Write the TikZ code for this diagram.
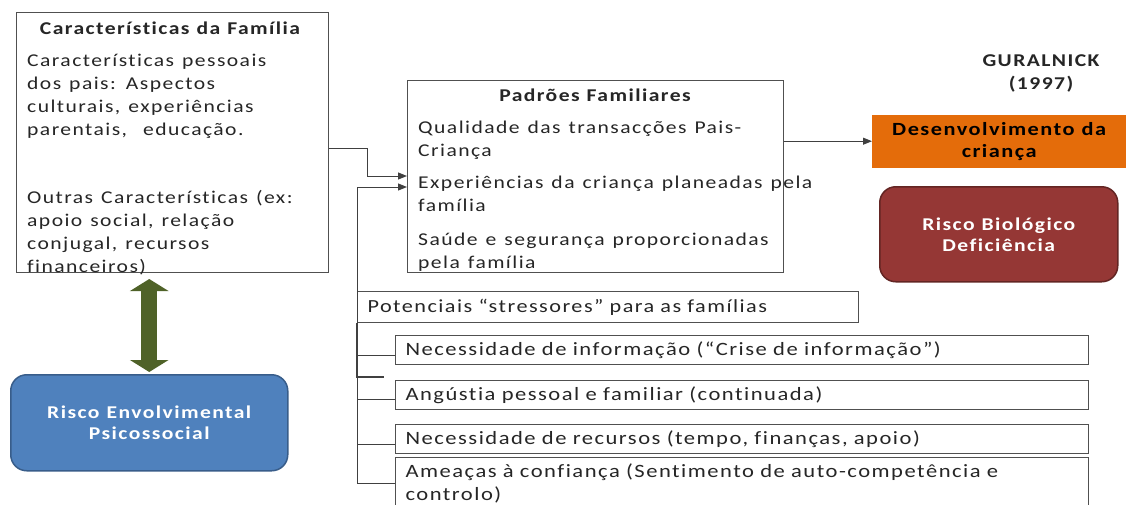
\documentclass[tikz,border=0pt]{standalone}
\usepackage{fontspec}
\setmainfont{Carlito}[FakeStretch=1.2, LetterSpace=8, Ligatures=NoCommon]
\usetikzlibrary{arrows.meta}
\newcommand\mysp[1]{\spaceskip=#1\relax}
\definecolor{lineg}{HTML}{404040}
\definecolor{boxg}{HTML}{505050}
\definecolor{olivearrow}{HTML}{4F6228}
\definecolor{bluefill}{HTML}{4F81BD}
\definecolor{blueedge}{HTML}{385D8A}
\definecolor{redfill}{HTML}{953735}
\definecolor{rededge}{HTML}{632523}
\definecolor{orangefill}{HTML}{E46C0A}
\begin{document}
\begin{tikzpicture}[x=1pt,y=-1pt,
  every node/.style={font=\fontsize{18}{23}\selectfont\mysp{8pt}, text=black!85},
  frame/.style={draw=boxg, line width=1pt, anchor=north west, inner sep=0pt},
  para/.style={anchor=north west, align=left, inner sep=0pt},
  title/.style={font=\bfseries\fontsize{18}{23}\selectfont\mysp{7pt}, inner sep=0pt},
  strbox/.style={draw=boxg, line width=1pt, anchor=north west, align=left, inner xsep=10pt, inner ysep=0pt, font=\fontsize{18.8}{23}\selectfont\mysp{8pt}},
  conn/.style={draw=lineg, line width=1pt},
  tip/.style={-{Triangle[length=9pt,width=7pt]}},
  rbox/.style={rounded corners=16pt, line width=1.5pt, font=\bfseries\fontsize{18}{21}\selectfont\mysp{7pt}, text=white, align=center, anchor=north west, inner sep=0pt}
]
\useasboundingbox (0,0) rectangle (1126,504);
\fill[white] (0,0) rectangle (1126,504);

% Caracteristicas da Familia
\node[frame, minimum width=312pt, minimum height=260pt] (fam) at (16,12) {};
\node[title] (famt) at (170,28) {Características da Família};
\node[para] (famp1) at (27,54) {Características pessoais\\dos pais: Aspectos\\culturais, experiências\\parentais,\ \ educação.};
\node[para] (famp2) at (27,190) {Outras Características (ex:\\apoio social, relação\\conjugal, recursos\\financeiros)};

% Padroes Familiares
\node[frame, minimum width=376pt, minimum height=192pt] (pad) at (407,80) {};
\node[title] (padt) at (595,95) {Padrões Familiares};
\node[para] (padp1) at (418,121) {Qualidade das transacções Pais-\\Criança};
\node[para] (padp2) at (418,176) {Experiências da criança planeadas pela\\família};
\node[para] (padp3) at (418,233) {Saúde e segurança proporcionadas\\pela família};

% right side
\node[font=\bfseries\fontsize{18}{23}\selectfont, align=center, inner sep=0pt] (gur) at (1041,73) {GURALNICK\\(1997)};
\node[fill=orangefill, draw=orangefill, anchor=north west, minimum width=254pt, minimum height=52pt, inner sep=0pt,
      font=\bfseries\fontsize{18.6}{22}\selectfont\mysp{7pt}, text=black, align=center] (des) at (872,115) {Desenvolvimento da\\criança};
\node[rbox, fill=redfill, draw=rededge, minimum width=238pt, minimum height=95pt] (bio) at (879,186) {Risco Biológico\\Deficiência};
\node[rbox, fill=bluefill, draw=blueedge, minimum width=277pt, minimum height=96pt] (env) at (10,374) {Risco Envolvimental\\Psicossocial};

% stressors
\node[strbox, minimum width=501pt, minimum height=31pt, text width=481pt, font=\fontsize{18.5}{23}\selectfont] (pot) at (357,291) {Potenciais “stressores” para as famílias};
\node[strbox, minimum width=693pt, minimum height=29pt, text width=673pt] (s1) at (395,335) {Necessidade de informação (“Crise de informação”)};
\node[strbox, minimum width=693pt, minimum height=29pt, text width=673pt] (s2) at (395,380) {Angústia pessoal e familiar (continuada)};
\node[strbox, minimum width=693pt, minimum height=29pt, text width=673pt] (s3) at (395,424) {Necessidade de recursos (tempo, finanças, apoio)};
\node[strbox, minimum width=693pt, minimum height=52pt, text width=673pt, anchor=north west] (s4) at (395,457) {Ameaças à confiança (Sentimento de auto-competência e\\controlo)};

% connectors
\coordinate (j1) at (367,148);
\coordinate (j2) at (367,176);
\coordinate (trunk) at (357,187);
\coordinate (stub) at (384,377);
\draw[conn, tip] (fam.east |- j1) -- (j1) -- (j2) -- (pad.west |- j2);
\draw[conn, tip] (s4.west -| trunk) -- (trunk) -- (pad.west |- trunk);
\draw[conn] ([yshift=-5pt]s1.west) -- ([yshift=-5pt]s1.west -| trunk);
\draw[conn] ([yshift=-4pt]s2.west) -- ([yshift=-4pt]s2.west -| trunk);
\draw[conn] ([yshift=-5pt]s3.west) -- ([yshift=-5pt]s3.west -| trunk);
\draw[conn] (s4.west) -- (s4.west -| trunk);
\draw[conn, line width=1.6pt] (pot.south west) -- (pot.south west |- stub) -- (stub);
\draw[conn, tip] (pad.east |- des.west) -- (des.west);

% green double arrow
\draw[olivearrow, line width=16pt, {Triangle[length=12pt,width=38pt]}-{Triangle[length=12pt,width=38pt]}]
  ([yshift=-6pt]fam.south -| env.north) -- ([yshift=2pt]env.north);
\end{tikzpicture}
\end{document}
